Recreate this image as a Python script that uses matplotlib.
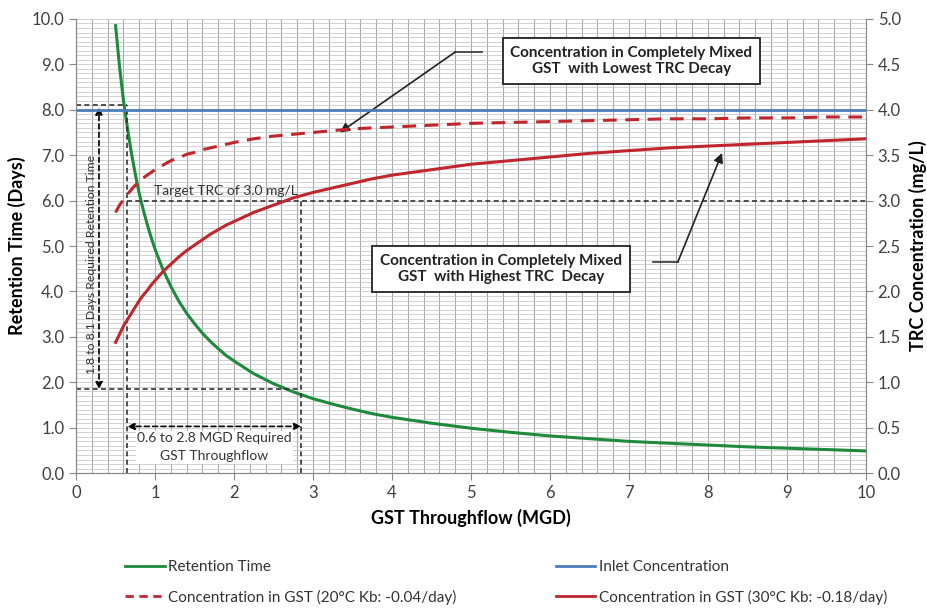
import matplotlib
matplotlib.use("Agg")
from matplotlib import pyplot as plt
from matplotlib.ticker import MultipleLocator
from matplotlib.lines import Line2D

plt.rcParams['font.family'] = ['Lato', 'DejaVu Sans']

# GST throughflow (MGD)
flow = [0.5, 0.55, 0.6, 0.65, 0.7, 0.75, 0.8, 0.85, 0.9, 0.95, 1.0, 1.1, 1.2, 1.3,
        1.4, 1.5, 1.6, 1.7, 1.8, 1.9, 2.0, 2.25, 2.5, 2.75, 3.0, 3.25, 3.5, 3.75,
        4.0, 4.5, 5.0, 5.5, 6.0, 6.5, 7.0, 7.5, 8.0, 8.5, 9.0, 9.5, 10.0]
# retention time (days), left axis
retention = [9.85, 8.95, 8.2, 7.6, 7.05, 6.58, 6.15, 5.8, 5.48, 5.19, 4.93, 4.48,
             4.11, 3.79, 3.52, 3.29, 3.08, 2.9, 2.74, 2.59, 2.47, 2.19, 1.97, 1.79,
             1.64, 1.52, 1.41, 1.31, 1.23, 1.1, 0.99, 0.9, 0.82, 0.76, 0.7, 0.66,
             0.62, 0.58, 0.55, 0.52, 0.49]
# TRC concentration (mg/L), right axis
conc_20c = [2.87, 2.95, 3.01, 3.07, 3.12, 3.17, 3.21, 3.25, 3.28, 3.31, 3.34, 3.39,
            3.44, 3.47, 3.51, 3.53, 3.56, 3.58, 3.60, 3.62, 3.64, 3.68, 3.71, 3.73,
            3.75, 3.77, 3.79, 3.80, 3.81, 3.83, 3.85, 3.86, 3.87, 3.88, 3.89, 3.90,
            3.90, 3.91, 3.91, 3.92, 3.92]
conc_30c = [1.44, 1.53, 1.62, 1.69, 1.76, 1.83, 1.90, 1.96, 2.01, 2.07, 2.12, 2.22,
            2.30, 2.38, 2.45, 2.51, 2.57, 2.63, 2.68, 2.73, 2.77, 2.87, 2.95, 3.03,
            3.09, 3.14, 3.19, 3.24, 3.28, 3.34, 3.40, 3.44, 3.48, 3.52, 3.55, 3.58,
            3.60, 3.62, 3.64, 3.66, 3.68]
inlet_x = [0, 10]
inlet_conc = [4.0, 4.0]

green = "#1e8a3c"
blue = "#4a7ebb"
red = "#c0262d"

fig = plt.figure(figsize=(9.28, 6.09), dpi=100)
ax = fig.add_axes([0.082, 0.223, 0.851, 0.746])
ax2 = ax.twinx()

ax.set_xlim(0, 10)
ax.set_ylim(0, 10)
ax2.set_ylim(0, 5)

ax.xaxis.set_major_locator(MultipleLocator(1))
ax.xaxis.set_minor_locator(MultipleLocator(0.2))
ax.yaxis.set_major_locator(MultipleLocator(1))
ax.yaxis.set_minor_locator(MultipleLocator(0.1))
ax2.yaxis.set_major_locator(MultipleLocator(0.5))
ax.xaxis.grid(True, which='both', color='#a8a8a8', lw=0.8)
ax.yaxis.grid(True, which='both', color='#c6c6c6', lw=0.55)
ax.set_axisbelow(True)
ax.tick_params(which='minor', length=0)
ax.tick_params(which='major', length=5, color='#888888', labelsize=12, labelcolor='#404040')
ax2.tick_params(which='major', length=5, color='#888888', labelsize=12, labelcolor='#404040')
ax.yaxis.set_major_formatter(lambda v, p: f"{v:.1f}")
ax2.yaxis.set_major_formatter(lambda v, p: f"{v:.1f}")
for a in (ax, ax2):
    for s in a.spines.values():
        s.set_visible(False)
    a.spines['left'].set_visible(True)
    a.spines['bottom'].set_visible(True)
    a.spines['left'].set_color('#888888')
    a.spines['bottom'].set_color('#888888')
ax2.spines['right'].set_visible(True)
ax2.spines['right'].set_color('#888888')

ax.set_xlabel("GST Throughflow (MGD)", fontsize=13, fontweight='bold', labelpad=6)
ax.set_ylabel("Retention Time (Days)", fontsize=13, fontweight='bold', labelpad=4)
ax2.set_ylabel("TRC Concentration (mg/L)", fontsize=13, fontweight='bold', labelpad=6)

ax.plot(flow, retention, color=green, lw=2.2)
ax2.plot(inlet_x, inlet_conc, color=blue, lw=2)
ax2.plot(flow, conc_20c, color=red, lw=2.2, ls=(0, (4.5, 2.8)))
ax2.plot(flow, conc_30c, color=red, lw=2.2)

# guide lines
dk = dict(color='#333333', lw=1.2, ls=(0, (3, 2)))
ax.plot([0.65, 10], [6.0, 6.0], **dk)
ax.plot([0.65, 0.65], [0, 8.1], **dk)
ax.plot([0, 0.65], [8.1, 8.1], **dk)
ax.plot([2.85, 2.85], [0, 6.0], **dk)
ax.plot([0, 2.85], [1.85, 1.85], **dk)
ax.text(1.9, 6.08, "Target TRC of 3.0 mg/L", fontsize=10, color='#333333',
        ha='center', va='bottom')

arr = dict(arrowstyle='<|-|>', color='black', lw=1.2, ls=(0, (3, 2)),
           shrinkA=0, shrinkB=0, mutation_scale=10)
ax.annotate("", xy=(0.29, 8.05), xytext=(0.29, 1.85), arrowprops=arr)
ax.annotate("", xy=(0.65, 1.03), xytext=(2.85, 1.03), arrowprops=arr)
ax.text(0.19, 4.6, "1.8 to 8.1 Days Required Retention Time", rotation=90,
        fontsize=8.8, color='#333333', ha='center', va='center')
ax.text(1.75, 0.57, "0.6 to 2.8 MGD Required\nGST Throughflow", fontsize=10,
        color='#333333', ha='center', va='center', linespacing=1.6,
        bbox=dict(facecolor='white', edgecolor='none', pad=1))

box = dict(boxstyle='square,pad=0.5', facecolor='white', edgecolor='#222222', lw=1.3)
ax.text(7.03, 9.07, "Concentration in Completely Mixed\nGST  with Lowest TRC Decay",
        fontsize=11, fontweight='bold', color='#222222', ha='center', va='center',
        bbox=box)
ax.text(5.38, 4.49, "Concentration in Completely Mixed\nGST  with Highest TRC  Decay",
        fontsize=11, fontweight='bold', color='#222222', ha='center', va='center',
        bbox=box)
ax.plot([5.14, 4.8], [9.27, 9.27], color='#333333', lw=1.2)
ax.annotate("", xy=(3.34, 7.5), xytext=(4.8, 9.27),
            arrowprops=dict(arrowstyle='-|>', color='#222222', lw=1.2,
                            shrinkA=0, shrinkB=0, mutation_scale=14))
ax.plot([7.3, 7.62], [4.65, 4.65], color='#333333', lw=1.2)
ax.annotate("", xy=(8.18, 7.05), xytext=(7.62, 4.65),
            arrowprops=dict(arrowstyle='-|>', color='#222222', lw=1.2,
                            shrinkA=0, shrinkB=0, mutation_scale=14))

# legend filled column-wise: left column first
handles = [
    Line2D([], [], color=green, lw=2),
    Line2D([], [], color=red, lw=2, ls=(0, (3, 2))),
    Line2D([], [], color=blue, lw=2),
    Line2D([], [], color=red, lw=2),
]
labels = ["Retention Time",
          "Concentration in GST (20\u00b0C Kb: -0.04/day)",
          "Inlet Concentration",
          "Concentration in GST (30\u00b0C Kb: -0.18/day)"]
fig.legend(handles, labels, ncol=2, loc='upper left', bbox_to_anchor=(0.135, 0.08),
           frameon=False, fontsize=11, handlelength=2.6, handletextpad=0.2,
           columnspacing=6.5, labelspacing=1.0, labelcolor='#333333',
           borderpad=0, borderaxespad=0)

fig.savefig("out.png", dpi=100)
